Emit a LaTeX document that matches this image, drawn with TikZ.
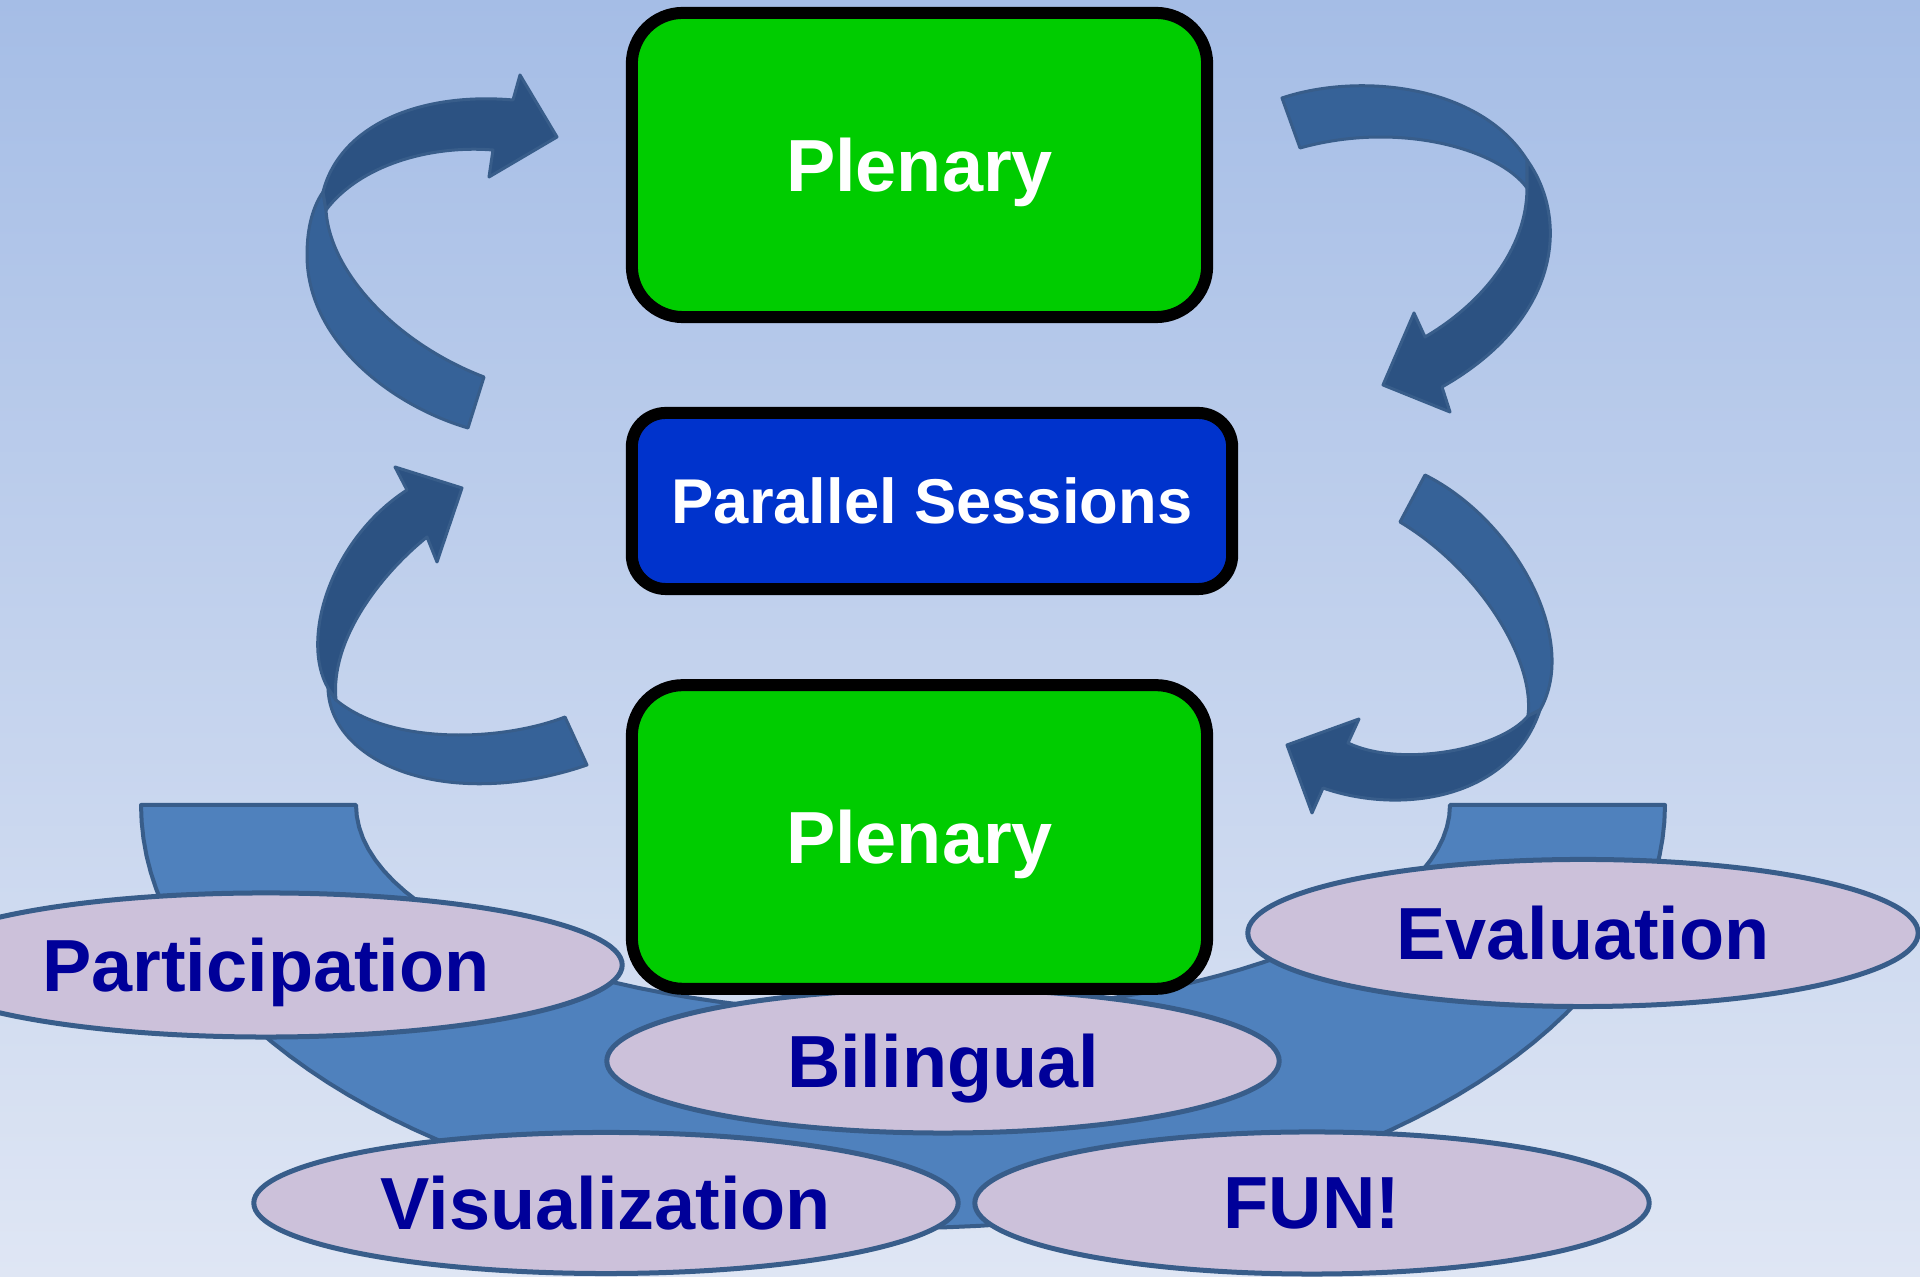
\documentclass[tikz,border=0pt]{standalone}
\usepackage{fontspec}
\setmainfont{Liberation Sans}
\usetikzlibrary{shapes.geometric}
\definecolor{bgtop}{RGB}{165,189,230}
\definecolor{bgbot}{RGB}{223,230,244}
\definecolor{plenarygreen}{RGB}{0,204,0}
\definecolor{parallelblue}{RGB}{0,51,204}
\definecolor{bandfill}{RGB}{79,129,189}
\definecolor{bandline}{RGB}{56,93,138}
\definecolor{ideafill}{RGB}{204,193,218}
\definecolor{ideatext}{RGB}{0,0,153}
\definecolor{ribbonbody}{RGB}{54,98,152}
\definecolor{ribbondark}{RGB}{44,82,130}
\begin{document}
\begin{tikzpicture}[x=0.01cm,y=-0.01cm,
  session/.style={draw=black,line width=0.12cm,text=white,inner sep=0pt,
    text depth=0pt,font=\bfseries\fontsize{21}{25}\selectfont},
  idea/.style={ellipse,draw=bandline,line width=0.05cm,fill=ideafill,
    text=ideatext,inner sep=0pt,text depth=0pt,
    font=\bfseries\fontsize{21}{25}\selectfont},
  band/.style={draw=bandline,line width=0.04cm,fill=bandfill,line join=round},
  ribbon/.style={draw=bandline,line width=0.03cm,line join=round,fill=ribbonbody},
  ribbonhead/.style={ribbon,fill=ribbondark}]
  \useasboundingbox (0,0) rectangle (1920,1277);
  \fill[top color=bgtop,bottom color=bgbot] (0,0) rectangle (1920,1277);
  % the big bowl under the bottom
  \draw[band] (143,805) -- (356,805)
    -- plot[domain=180:0,samples=60] ({903+547*cos(\x)},{805+209*sin(\x)})
    -- (1665,805)
    -- plot[domain=0:180,samples=80] ({903+762*cos(\x)},{805+423*sin(\x)})
    -- cycle;
  % turning arrows, left top
  \draw[ribbon] (468,428) .. controls (390,405) and (307,340) .. (307,255)
    .. controls (307,225) and (314,205) .. (323,192) -- (326,210)
    .. controls (330,275) and (400,345) .. (484,377) -- cycle;
  \draw[ribbonhead] (323,192) .. controls (340,125) and (420,92) .. (513,100)
    -- (520,75) -- (557,137) -- (489,177) -- (493,150)
    .. controls (430,145) and (360,165) .. (326,210) -- cycle;
  % right top
  \draw[ribbon] (1282,98) .. controls (1360,72) and (1480,85) .. (1527,160)
    -- (1527,188) .. controls (1500,150) and (1400,120) .. (1300,148) -- cycle;
  \draw[ribbonhead] (1527,160) .. controls (1570,220) and (1560,320) .. (1442,387)
    -- (1450,412) -- (1383,385) -- (1414,313) -- (1425,337)
    .. controls (1480,305) and (1527,250) .. (1527,188) -- cycle;
  % left bottom
  \draw[ribbon] (565,717) .. controls (500,742) and (390,745) .. (336,700)
    -- (328,688) .. controls (330,765) and (450,812) .. (587,765) -- cycle;
  \draw[ribbonhead] (328,688) .. controls (300,640) and (330,540) .. (407,490)
    -- (395,467) -- (462,488) -- (437,562) -- (427,537)
    .. controls (380,575) and (330,640) .. (336,700) -- cycle;
  % right bottom
  \draw[ribbon] (1425,475) .. controls (1515,520) and (1580,640) .. (1540,710)
    -- (1528,716) .. controls (1535,660) and (1480,570) .. (1400,522) -- cycle;
  \draw[ribbonhead] (1540,710) .. controls (1510,800) and (1400,815) .. (1323,788)
    -- (1312,813) -- (1287,745) -- (1359,719) -- (1348,743)
    .. controls (1400,768) and (1500,750) .. (1528,716) -- cycle;
  % the ideas
  \foreach \nm/\cx/\cy/\w/\h/\txt in {part/266/965/7.12/1.44/Participation,
      eval/1583/933/6.70/1.47/Evaluation,
      vis/606/1203/7.04/1.41/Visualization,
      fun/1312/1203/6.74/1.42/FUN!,
      bil/943/1061/6.72/1.44/Bilingual}
    \node[idea,minimum width=\w cm,minimum height=\h cm] (\nm) at (\cx,\cy) {\txt};
  % the sessions
  \node[session,fill=plenarygreen,rounded corners=0.51cm,
    minimum width=5.75cm,minimum height=3.04cm] (plentop) at (919.5,165) {Plenary};
  \node[session,fill=parallelblue,rounded corners=0.34cm,
    minimum width=6cm,minimum height=1.76cm,
    font=\bfseries\fontsize{18}{22}\selectfont] (parallel) at (932,501) {Parallel Sessions};
  \node[session,fill=plenarygreen,rounded corners=0.51cm,
    minimum width=5.75cm,minimum height=3.035cm] (plenbot) at (919.5,837) {Plenary};
\end{tikzpicture}
\end{document}
